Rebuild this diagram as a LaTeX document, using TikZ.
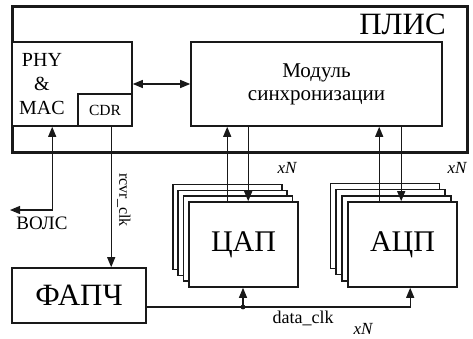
\documentclass[tikz,border=0pt]{standalone}
\usepackage{fontspec}
\setmainfont{Liberation Serif}
\usetikzlibrary{positioning, arrows.meta, calc}

\begin{document}
\begin{tikzpicture}[
        x=1pt, y=-1pt,
        plisbox/.style={rectangle, draw=black!90, line width=3pt, minimum width=455pt, minimum height=146pt, inner sep=0pt},
        blockbox/.style={rectangle, draw=black!90, line width=1.6pt, fill=white, inner sep=0pt},
        chipbox/.style={blockbox, minimum width=109pt, minimum height=85pt, font=\fontsize{30}{34}\selectfont},
        arr/.style={-{Triangle[length=10pt, width=8pt]}, line width=1.1pt, black!90},
        biarr/.style={{Triangle[length=10pt, width=8pt]}-{Triangle[length=10pt, width=8pt]}, line width=1.1pt, black!90},
        lbl/.style={font=\fontsize{18}{20}\selectfont, inner sep=1pt},
        xnlbl/.style={font=\fontsize{17}{19}\selectfont\itshape, inner sep=1pt},
    ]
        \useasboundingbox (0,0) rectangle (473,339);

        % FPGA with its blocks
        \node[plisbox] (plis) at (239.5,80) {};
        \node[font=\fontsize{31}{34}\selectfont, anchor=east, inner sep=0pt] (plisname) at (446,24) {ПЛИС};
        \node[blockbox, minimum width=120pt, minimum height=84pt] (phy) at (72,84) {};
        \node[font=\fontsize{20}{24}\selectfont, align=center, inner sep=0pt] (phytxt) at (42,84) {PHY\\\&\\MAC};
        \node[blockbox, minimum width=54pt, minimum height=32pt, font=\fontsize{15.5}{17}\selectfont] (cdr) at (105,110) {CDR};
        \node[blockbox, minimum width=251pt, minimum height=84pt, align=center, font=\fontsize{21}{23}\selectfont] (sync) at (316.5,84) {Модуль\\синхронизации};

        % DAC and ADC stacks
        \foreach \k in {3,2,1} {
            \node[chipbox] (dac\k) at ($(243.5,244.5)-(5.4*\k,5.8*\k)$) {};
            \node[chipbox] (adc\k) at ($(402.5,244.5)-(5.9*\k,6.2*\k)$) {};
        }
        \node[chipbox] (dac) at (243.5,244.5) {ЦАП};
        \node[chipbox] (adc) at (402.5,244.5) {АЦП};

        % PLL
        \node[blockbox, minimum width=134pt, minimum height=55pt, font=\fontsize{31}{34}\selectfont] (pll) at (79,295.5) {ФАПЧ};

        % Arrows
        \draw[biarr] (phy) -- (sync);
        \draw[arr] ([xshift=39pt]dac.north west) -- ([xshift=39pt]dac.north west |- sync.south);
        \draw[arr] ([xshift=60pt]dac.north west |- sync.south) -- ([xshift=60pt]dac.north west);
        \draw[arr] ([xshift=32pt]adc.north west) -- ([xshift=32pt]adc.north west |- sync.south);
        \draw[arr] ([xshift=54pt]adc.north west |- sync.south) -- ([xshift=54pt]adc.north west);
        \node[xnlbl] (dacn) at (287,168) {xN};
        \node[xnlbl] (adcn) at (457,168) {xN};

        % Fibre link
        \coordinate (volsend) at (10,210);
        \draw[biarr] (volsend) -| ([xshift=41pt]phy.south west);
        \node[font=\fontsize{19}{21}\selectfont, inner sep=0pt] (vols) at (42,223) {ВОЛС};

        % Recovered clock
        \draw[arr] ([xshift=34pt]cdr.south west) -- ([xshift=34pt]cdr.south west |- pll.north);
        \node[font=\fontsize{16}{18}\selectfont, rotate=-90, inner sep=0pt] (rcvr) at (124,200) {rcvr\_clk};

        % Data clock
        \coordinate (dclk) at (243,307);
        \draw[arr] (dclk) -- (dclk |- dac.south);
        \draw[arr] ([yshift=-11.5pt]pll.east) -| ([xshift=63pt]adc.south west);
        \fill[black!90] (dclk) circle (2.4pt);
        \node[lbl] (dclklbl) at (303,318) {data\_clk};
        \node[xnlbl] (dclkn) at (363,329) {xN};
    \end{tikzpicture}
\end{document}
